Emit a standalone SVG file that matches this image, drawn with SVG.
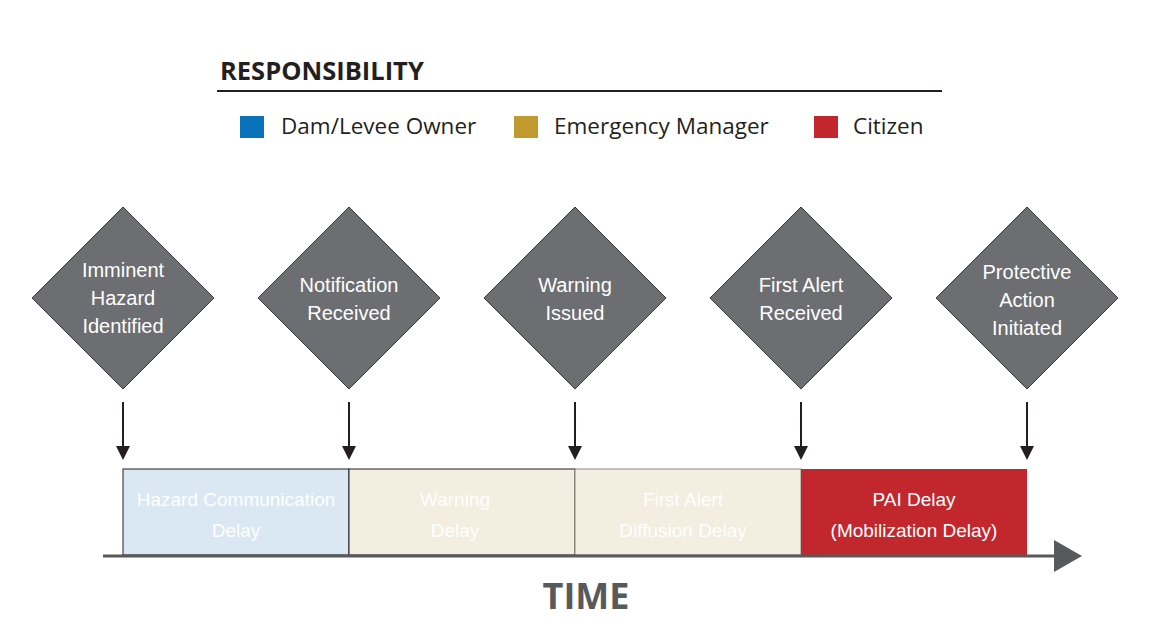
<svg xmlns="http://www.w3.org/2000/svg" width="1170" height="644" viewBox="0 0 1170 644">
<style>
.d{fill:#6d6e71;stroke:#3a3a3a;stroke-width:1}
.dt{font-family:"Liberation Sans",Arial,sans-serif;font-size:20px;fill:#fff;text-anchor:middle}
.bt{font-family:"Liberation Sans",Arial,sans-serif;font-size:19px;fill:#fff;text-anchor:middle}
.lg{font-family:"Open Sans","Liberation Sans",sans-serif;font-size:22.5px;fill:#231f20}
.ar{stroke:#231f20;stroke-width:2;fill:none}
</style>
<defs><marker id="ah" markerWidth="14" markerHeight="14" refX="12" refY="7" orient="auto" markerUnits="userSpaceOnUse"><path d="M0,0 L14,7 L0,14 Z" fill="#231f20"/></marker></defs>
<g id="legend">
<text x="220" y="80" font-family="Open Sans,Liberation Sans,sans-serif" font-weight="bold" font-size="25.5" fill="#231f20">RESPONSIBILITY</text>
<line x1="217" y1="91" x2="942" y2="91" stroke="#231f20" stroke-width="2"/>
<rect x="240" y="116" width="24" height="22" fill="#0a72ba"/><text class="lg" x="281" y="134">Dam/Levee Owner</text>
<rect x="514" y="116" width="24" height="22" fill="#c09a2e"/><text class="lg" x="554" y="134">Emergency Manager</text>
<rect x="814" y="116" width="24" height="22" fill="#c1272d"/><text class="lg" x="853" y="134">Citizen</text>
</g>
<g id="n1"><path class="d" d="M123,207 L214,298 L123,389 L32,298 Z"/><text class="dt" x="123" y="277">Imminent</text><text class="dt" x="123" y="305">Hazard</text><text class="dt" x="123" y="333">Identified</text></g>
<g id="n2"><path class="d" d="M349,207 L440,298 L349,389 L258,298 Z"/><text class="dt" x="349" y="292">Notification</text><text class="dt" x="349" y="320">Received</text></g>
<g id="n3"><path class="d" d="M575,207 L666,298 L575,389 L484,298 Z"/><text class="dt" x="575" y="292">Warning</text><text class="dt" x="575" y="320">Issued</text></g>
<g id="n4"><path class="d" d="M801,207 L892,298 L801,389 L710,298 Z"/><text class="dt" x="801" y="292">First Alert</text><text class="dt" x="801" y="320">Received</text></g>
<g id="n5"><path class="d" d="M1027,207 L1118,298 L1027,389 L936,298 Z"/><text class="dt" x="1027" y="279">Protective</text><text class="dt" x="1027" y="307">Action</text><text class="dt" x="1027" y="335">Initiated</text></g>
<g id="b1"><rect x="123" y="469" width="226" height="86" fill="#d9e8f3" stroke="#231f20" stroke-width="1"/><text class="bt" x="236" y="506">Hazard Communication</text><text class="bt" x="236" y="537">Delay</text></g>
<g id="b2"><rect x="349" y="469" width="226" height="86" fill="#f3eedf" stroke="#231f20" stroke-width="1"/><text class="bt" x="455" y="506">Warning</text><text class="bt" x="455" y="537">Delay</text></g>
<g id="b3"><rect x="575" y="469" width="226" height="86" fill="#f3eedf" stroke="#888" stroke-width="1"/><text class="bt" x="683" y="506">First Alert</text><text class="bt" x="683" y="537">Diffusion Delay</text></g>
<g id="b4"><rect x="801" y="469" width="226" height="86" fill="#c1272d"/><text class="bt" x="914" y="506">PAI Delay</text><text class="bt" x="914" y="537">(Mobilization Delay)</text></g>
<g id="connectors">
<line class="ar" x1="123" y1="402" x2="123" y2="458" marker-end="url(#ah)"/>
<line class="ar" x1="349" y1="402" x2="349" y2="458" marker-end="url(#ah)"/>
<line class="ar" x1="575" y1="402" x2="575" y2="458" marker-end="url(#ah)"/>
<line class="ar" x1="801" y1="402" x2="801" y2="458" marker-end="url(#ah)"/>
<line class="ar" x1="1027" y1="402" x2="1027" y2="458" marker-end="url(#ah)"/>
<line x1="103" y1="556" x2="1056" y2="556" stroke="#58595b" stroke-width="3"/>
<path d="M1054,540 L1082,556 L1054,572 Z" fill="#58595b"/>
</g>
<text x="586" y="609" text-anchor="middle" font-family="Open Sans,Liberation Sans,sans-serif" font-weight="bold" font-size="36" fill="#58595b">TIME</text>
</svg>
